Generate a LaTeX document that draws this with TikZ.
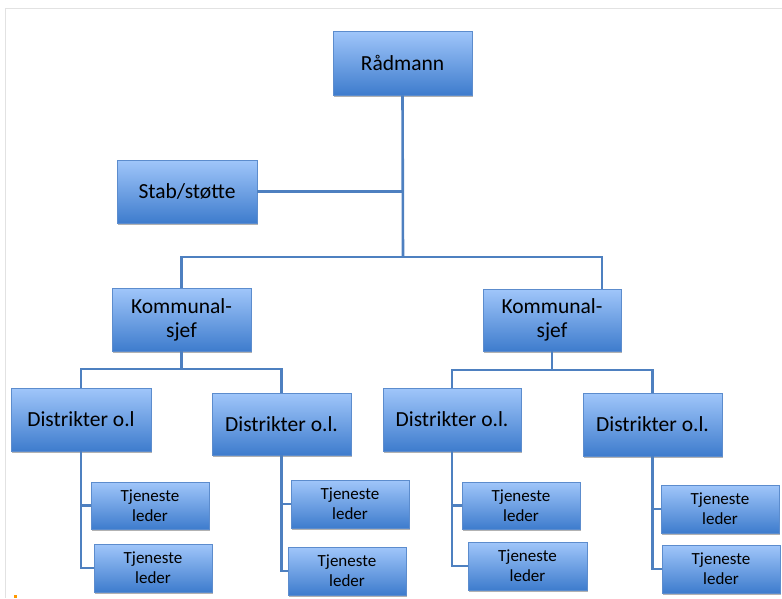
\documentclass[tikz,border=0pt]{standalone}
\usepackage{fontspec}
\setmainfont{Carlito}
\usetikzlibrary{shadows}
\definecolor{topc}{RGB}{160,198,250}
\definecolor{botc}{RGB}{62,124,205}
\definecolor{bordc}{RGB}{92,140,205}
\definecolor{linec}{RGB}{78,128,192}
\definecolor{framec}{RGB}{226,226,226}
\tikzset{
  orgbox/.style={draw=bordc, line width=0.7pt, top color=topc, bottom color=botc,
    inner sep=0pt, align=center, text=black,
    drop shadow={shadow xshift=1pt, shadow yshift=-1.5pt, opacity=0.3, fill=black}},
  bigbox/.style={orgbox, font=\fontsize{21.5}{24}\selectfont},
  smallbox/.style={orgbox, minimum width=118pt, minimum height=48pt, font=\fontsize{17}{20}\selectfont},
  conn/.style={draw=linec, line width=2.6pt}
}
\begin{document}
\begin{tikzpicture}[x=1pt, y=-1pt]
\useasboundingbox (0,0) rectangle (782,598);
% frame
\draw[framec, line width=1.6pt] (5.5,598) -- (5.5,8.5) -- (782,8.5);
\fill[orange!80!yellow] (14,595) rectangle (17,598);

% junction coordinates
\coordinate (tb) at (403,257);
\coordinate (j2) at (602,257);
\coordinate (kb1) at (181.5,369);
\coordinate (kb2) at (552,370);

% boxes
\node[bigbox, minimum width=139pt, minimum height=64pt] (rad) at (402.5,63) {Rådmann};
\node[bigbox, minimum width=140pt, minimum height=63pt] (stab) at (187,191.5) {Stab/støtte};
\node[bigbox, minimum width=139pt, minimum height=63pt] (k1) at (181.5,319.5) {Kommunal-\\sjef};
\node[bigbox, minimum width=138pt, minimum height=62pt] (k2) at (552,320) {Kommunal-\\sjef};
\node[bigbox, minimum width=140pt, minimum height=63pt] (d1) at (81,419.5) {Distrikter o.l};
\node[bigbox, minimum width=139pt, minimum height=62pt] (d2) at (281.5,424) {Distrikter o.l.};
\node[bigbox, minimum width=138pt, minimum height=63pt] (d3) at (452,419.5) {Distrikter o.l.};
\node[bigbox, minimum width=139pt, minimum height=63pt] (d4) at (652.5,424.5) {Distrikter o.l.};
\node[smallbox, minimum height=47pt] (t1a) at (150,505.5) {Tjeneste\\leder};
\node[smallbox] (t1b) at (153,568) {Tjeneste\\leder};
\node[smallbox] (t2a) at (350,504) {Tjeneste\\leder};
\node[smallbox] (t2b) at (347,571) {Tjeneste\\leder};
\node[smallbox, minimum height=47pt] (t3a) at (521,505.5) {Tjeneste\\leder};
\node[smallbox, minimum width=119pt] (t3b) at (527.5,566) {Tjeneste\\leder};
\node[smallbox] (t4a) at (720,509) {Tjeneste\\leder};
\node[smallbox] (t4b) at (721,569) {Tjeneste\\leder};

% connectors
\draw[conn] (rad.south) -- (tb);
\draw[conn] (stab.east) -- (stab.east -| tb);
\draw[conn] (k1.north) |- (tb) -- (j2) -- (j2 |- k2.north);
\draw[conn] (k1.south) -- (kb1);
\draw[conn] (d1.north) |- (kb1) -| (d2.north);
\draw[conn] (k2.south) -- (kb2);
\draw[conn] (d3.north) |- (kb2) -| (d4.north);
\draw[conn] (d1.south) |- (t1b.west);
\draw[conn] (d1.south |- t1a.west) -- (t1a.west);
\draw[conn] (d2.south) |- (t2b.west);
\draw[conn] (d2.south |- t2a.west) -- (t2a.west);
\draw[conn] (d3.south) |- (t3b.west);
\draw[conn] (d3.south |- t3a.west) -- (t3a.west);
\draw[conn] (d4.south) |- (t4b.west);
\draw[conn] (d4.south |- t4a.west) -- (t4a.west);
\end{tikzpicture}
\end{document}
